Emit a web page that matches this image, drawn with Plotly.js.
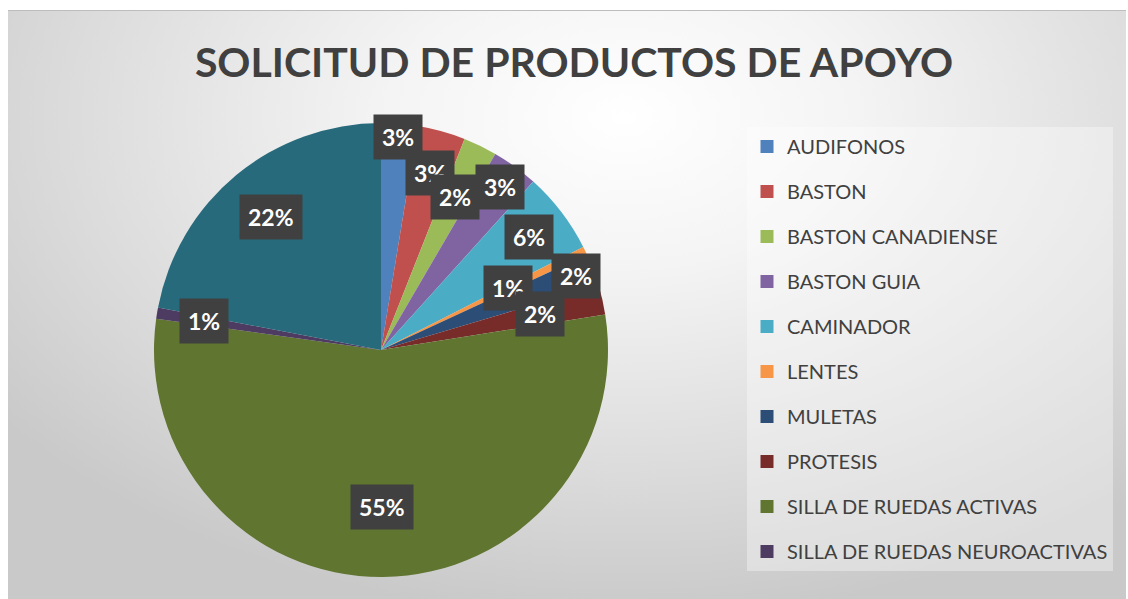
<!DOCTYPE html>
<html>
<head>
<meta charset="utf-8">
<script src="https://cdn.plot.ly/plotly-3.0.1.min.js"></script>
<style>
  html, body { margin: 0; padding: 0; background: #ffffff; width: 1128px; height: 599px; overflow: hidden; }
  #chart {
    position: absolute; left: 8px; top: 10px; width: 1118px; height: 589px;
    border-top: 1px solid #bdbdbd;
    background: radial-gradient(ellipse 70% 85% at 55% 18%, #ffffff 0%, #f4f4f4 30%, #dcdcdc 70%, #c9c9c9 100%);
  }
</style>
</head>
<body>
<div id="chart"></div>
<script>
// ---- data ----
const categories = [
  "AUDIFONOS", "BASTON", "BASTON CANADIENSE", "BASTON GUIA", "CAMINADOR",
  "LENTES", "MULETAS", "PROTESIS", "SILLA DE RUEDAS ACTIVAS",
  "SILLA DE RUEDAS NEUROACTIVAS", "OTROS"
];
const shares = [2.6, 3.4, 2.4, 3.3, 5.8, 0.6, 2.3, 2.1, 54.7, 0.8, 22.0];
const legendCount = 10; // the last category has no visible legend entry in the reference

// ---- styles ----
const colors = ["#4F81BD", "#C0504D", "#9BBB59", "#8064A2", "#4BACC6",
                "#F79646", "#2C4D75", "#772C2A", "#5F7530", "#4D3B62", "#276A7C"];
const labelRadius = [0.94, 0.81, 0.75, 0.89, 0.82, 0.62, 0.92, 0.72, 0.69, 0.79, 0.76];

const W = 1118, H = 589;
const cx = 373, cy = 339, R = 227; // pie centre / radius in div pixels
const domX = [(cx - R) / W, (cx + R) / W];
const domY = [(H - cy - R) / H, (H - cy + R) / H];

const traces = [{
  type: "pie",
  labels: categories,
  values: shares,
  sort: false,
  direction: "clockwise",
  rotation: 0,
  textinfo: "none",
  hoverinfo: "label+percent",
  marker: { colors: colors, line: { width: 0 } },
  domain: { x: domX, y: domY },
  showlegend: false
}];

for (let i = 0; i < legendCount; i++) {
  traces.push({
    type: "scatter", mode: "markers",
    x: [null], y: [null],
    name: categories[i],
    legendgroup: "g" + i,
    marker: { symbol: "square", size: 13, color: colors[i] },
    showlegend: true, hoverinfo: "skip"
  });
}

// data labels: placed at slice mid-angles computed from the values
const total = shares.reduce((a, b) => a + b, 0);
const annotations = [];
let cum = 0;
shares.forEach((v, i) => {
  const mid = (cum + v / 2) / total * 2 * Math.PI;
  cum += v;
  const r = R * labelRadius[i];
  const px = cx + r * Math.sin(mid);
  const py = cy - r * Math.cos(mid);
  annotations.push({
    x: px / W, y: 1 - py / H, xref: "paper", yref: "paper",
    xanchor: "center", yanchor: "middle",
    text: Math.round(v / total * 100) + "%",
    showarrow: false,
    bgcolor: "#404040",
    borderpad: 8,
    font: { family: "Lato, 'Open Sans', sans-serif", size: 23, color: "#ffffff", weight: "bold" }
  });
});

const layout = {
  width: W, height: H,
  margin: { l: 0, r: 0, t: 0, b: 0 },
  paper_bgcolor: "rgba(0,0,0,0)",
  plot_bgcolor: "rgba(0,0,0,0)",
  title: {
    text: "<b>SOLICITUD DE PRODUCTOS DE APOYO</b>",
    x: 566 / W, xanchor: "center",
    y: 1 - 52 / H, yanchor: "middle",
    font: { family: "Lato, 'Open Sans', sans-serif", size: 41, color: "#404040" }
  },
  xaxis: { visible: false },
  yaxis: { visible: false },
  showlegend: true,
  legend: {
    x: 739 / W, xanchor: "left",
    y: 1 - 116 / H, yanchor: "top",
    bgcolor: "rgba(255,255,255,0.35)",
    font: { family: "Lato, 'Open Sans', sans-serif", size: 20, color: "#404040" },
    tracegroupgap: 16,
    entrywidth: 350,
    entrywidthmode: "pixels",
    itemclick: false, itemdoubleclick: false
  },
  annotations: annotations
};

Plotly.newPlot("chart", traces, layout, { displayModeBar: false, staticPlot: true });
</script>
</body>
</html>
